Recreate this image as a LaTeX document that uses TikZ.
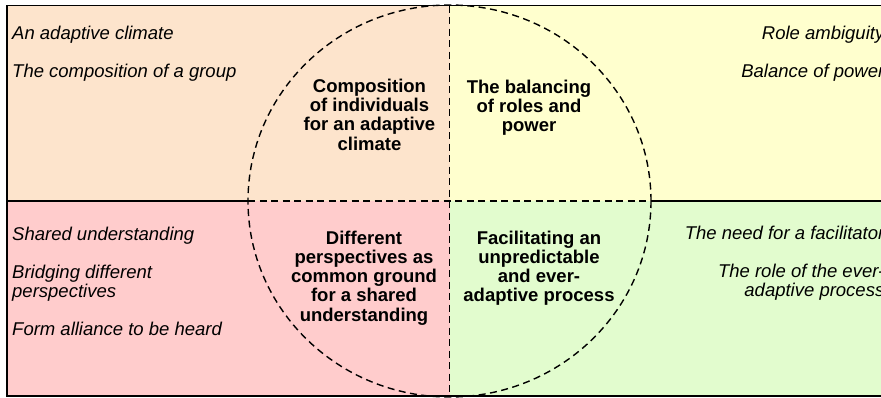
\documentclass[tikz,border=0pt]{standalone}
\usepackage{fontspec}
\setmainfont{Liberation Sans}
\usetikzlibrary{positioning}

\definecolor{peach}{RGB}{253,228,204}
\definecolor{paleyellow}{RGB}{255,255,206}
\definecolor{palepink}{RGB}{255,204,204}
\definecolor{palegreen}{RGB}{226,252,206}

\begin{document}
\begin{tikzpicture}[x=1pt, y=-1pt,
	every node/.style={inner sep=0pt},
	item/.style={font=\fontsize{18.5}{19.2}\selectfont\itshape},
	theme/.style={align=center, font=\fontsize{18.5}{19.2}\selectfont\bfseries},
	frame/.style={line width=1.8pt},
	split/.style={line width=1.4pt, dash pattern=on 7pt off 4.5pt}]
	\useasboundingbox (0,0) rectangle (881,397);
	
	\coordinate (tl) at (7,5.5);
	\coordinate (tr) at (890,5.5);
	\coordinate (bl) at (7,396);
	\coordinate (br) at (890,396);
	\coordinate (mid) at (449.5,201);
	\coordinate (midl) at (7,201);
	\coordinate (midr) at (890,201);
	\coordinate (midt) at (449.5,5.5);
	\coordinate (midb) at (449.5,396);
	\coordinate (rimw) at (248,201);
	\coordinate (rime) at (651,201);
	
	\fill[peach] (tl) rectangle (mid);
	\fill[paleyellow] (midt) rectangle (midr);
	\fill[palepink] (midl) rectangle (midb);
	\fill[palegreen] (mid) rectangle (br);
	
	\draw[frame] (tr) -- (tl) -- (bl) -- (br);
	\draw[frame] (midl) -- (rimw);
	\draw[frame] (rime) -- (midr);
	\draw[split] (rimw) -- (rime);
	\draw[split] (midt) -- (midb);
	\draw[split] (mid) ellipse [x radius=201.5pt, y radius=196pt];
	
	\node[item, anchor=base west] (climate) at (12,39.5) {An adaptive climate};
	\node[item, anchor=base west] (group) at (12,77.5) {The composition of a group};
	
	\node[item, anchor=base east] (ambiguity) at (884.5,39.5) {Role ambiguity};
	\node[item, anchor=base east] (power) at (884.5,77.5) {Balance of power};
	
	\node[item, anchor=base west] (shared) at (12,240.5) {Shared understanding};
	\node[item, anchor=base west, align=left] (bridging) at (12,297.2) {Bridging different\\perspectives};
	\node[item, anchor=base west] (alliance) at (12,335) {Form alliance to be heard};
	
	\node[item, anchor=base east] (facilitator) at (884.5,239.5) {The need for a facilitator};
	\node[item, anchor=base east, align=right] (process) at (884.5,296.7) {The role of the ever-\\adaptive process};
	
	\node[theme, anchor=base] (composition) at (369.5,150) {Composition\\of individuals\\for an adaptive\\climate};
	\node[theme, anchor=base] (balancing) at (529,131.4) {The balancing\\of roles and\\power};
	\node[theme, anchor=base] (perspectives) at (364,321) {Different\\perspectives as\\common ground\\for a shared\\understanding};
	\node[theme, anchor=base] (facilitating) at (539,301.9) {Facilitating an\\unpredictable\\and ever-\\adaptive process};
\end{tikzpicture}
\end{document}
